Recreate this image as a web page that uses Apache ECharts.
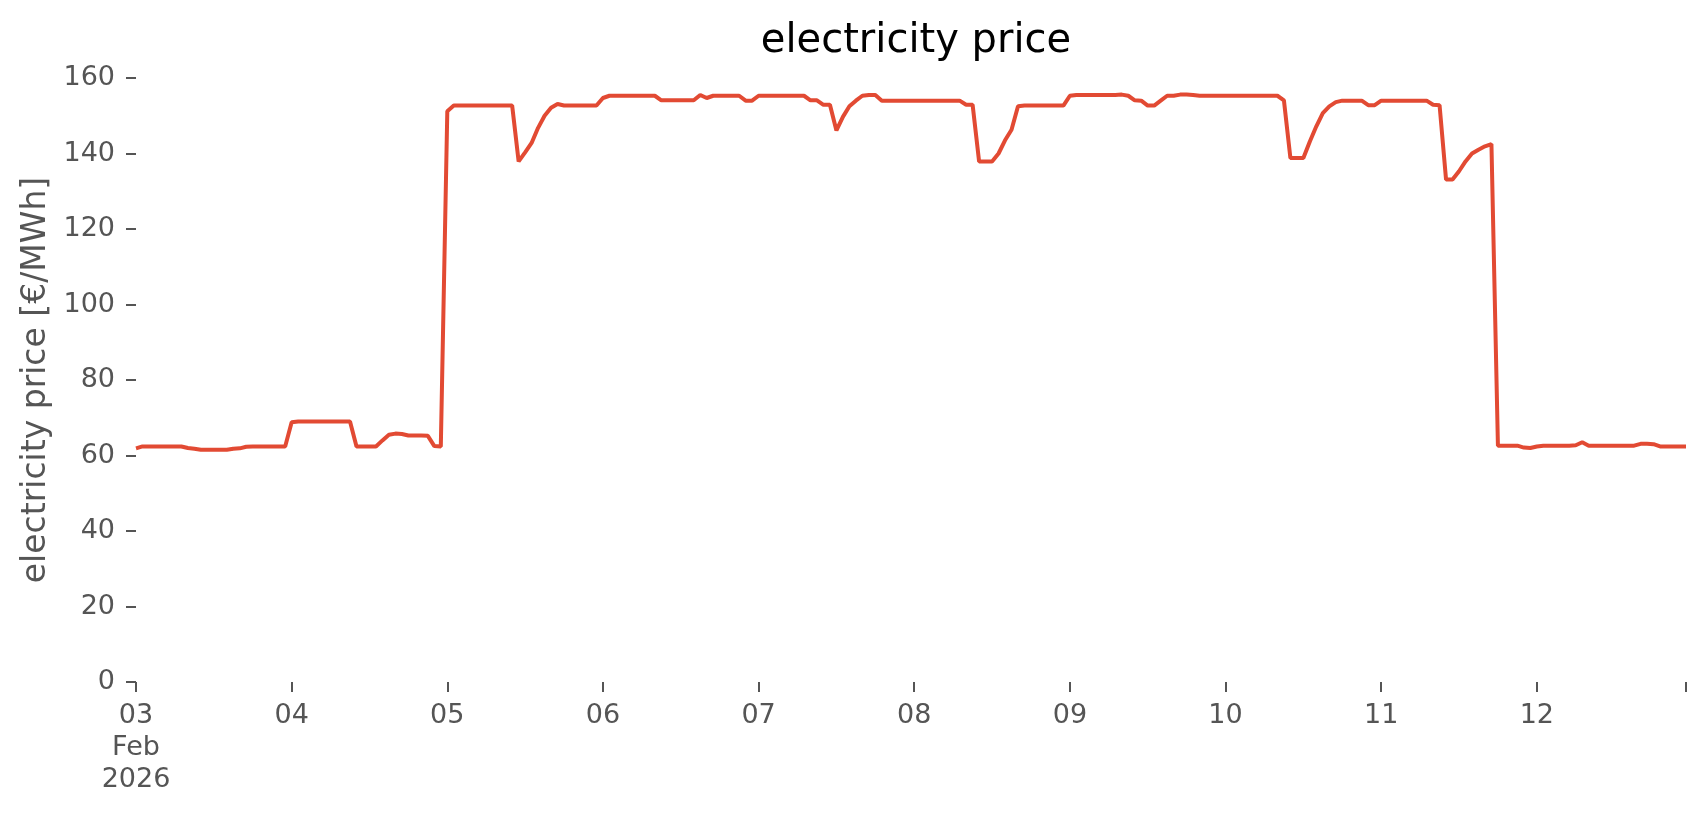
<!DOCTYPE html>
<html>
<head>
<meta charset="utf-8">
<script src="https://cdn.jsdelivr.net/npm/echarts@6/dist/echarts.min.js"></script>
<style>
html,body{margin:0;padding:0;background:#fff;}
#chart{width:1706px;height:815px;}
</style>
</head>
<body>
<div id="chart"></div>
<script>
const days = ["03","04","05","06","07","08","09","10","11","12"];
const hours = ["00","01","02","03","04","05","06","07","08","09","10","11","12","13","14","15","16","17","18","19","20","21","22","23"];
const monthLabel = "Feb";
const yearLabel = "2026";
const yTicks = [0, 20, 40, 60, 80, 100, 120, 140, 160];

const price_0203 = [61.9, 62.4, 62.4, 62.4, 62.4, 62.4, 62.4, 62.4, 62.0, 61.8, 61.5, 61.5, 61.5, 61.5, 61.5, 61.8, 61.9, 62.3, 62.4, 62.4, 62.4, 62.4, 62.4, 62.4];
const price_0204 = [68.8, 69.0, 69.0, 69.0, 69.0, 69.0, 69.0, 69.0, 69.0, 69.0, 62.4, 62.4, 62.4, 62.4, 64.0, 65.5, 65.8, 65.7, 65.3, 65.3, 65.3, 65.2, 62.5, 62.4];
const price_0205 = [151.2, 152.7, 152.7, 152.7, 152.7, 152.7, 152.7, 152.7, 152.7, 152.7, 152.7, 137.9, 140.3, 142.8, 146.8, 150.0, 152.1, 153.1, 152.7, 152.7, 152.7, 152.7, 152.7, 152.7];
const price_0206 = [154.7, 155.3, 155.3, 155.3, 155.3, 155.3, 155.3, 155.3, 155.3, 154.1, 154.1, 154.1, 154.1, 154.1, 154.1, 155.5, 154.7, 155.3, 155.3, 155.3, 155.3, 155.3, 154.0, 154.0];
const price_0207 = [155.3, 155.3, 155.3, 155.3, 155.3, 155.3, 155.3, 155.3, 154.1, 154.1, 152.9, 152.9, 146.1, 149.7, 152.5, 154.0, 155.3, 155.5, 155.5, 154.0, 154.0, 154.0, 154.0, 154.0];
const price_0208 = [154.0, 154.0, 154.0, 154.0, 154.0, 154.0, 154.0, 154.0, 152.9, 152.9, 137.9, 137.9, 137.9, 140.0, 143.5, 146.3, 152.5, 152.7, 152.7, 152.7, 152.7, 152.7, 152.7, 152.7];
const price_0209 = [155.3, 155.5, 155.5, 155.5, 155.5, 155.5, 155.5, 155.5, 155.6, 155.3, 154.1, 154.0, 152.7, 152.7, 154.0, 155.3, 155.3, 155.6, 155.6, 155.5, 155.3, 155.3, 155.3, 155.3];
const price_0210 = [155.3, 155.3, 155.3, 155.3, 155.3, 155.3, 155.3, 155.3, 155.3, 154.1, 138.8, 138.8, 138.8, 143.2, 147.2, 150.7, 152.5, 153.6, 154.0, 154.0, 154.0, 154.0, 152.8, 152.8];
const price_0211 = [154.0, 154.0, 154.0, 154.0, 154.0, 154.0, 154.0, 154.0, 152.9, 152.8, 133.1, 133.1, 135.3, 137.9, 140.0, 141.0, 141.9, 142.5, 62.6, 62.6, 62.6, 62.6, 62.1, 62.0];
const price_0212 = [62.4, 62.6, 62.6, 62.6, 62.6, 62.6, 62.7, 63.5, 62.6, 62.6, 62.6, 62.6, 62.6, 62.6, 62.6, 62.6, 63.1, 63.1, 63.0, 62.4, 62.4, 62.4, 62.4, 62.4];

const dailyPrices = [price_0203, price_0204, price_0205, price_0206, price_0207, price_0208, price_0209, price_0210, price_0211, price_0212];

const categories = [];
const values = [];
days.forEach((d, i) => {
  hours.forEach((h, j) => {
    categories.push(yearLabel + "-02-" + d + " " + h + ":00");
    values.push(dailyPrices[i][j]);
  });
});
const lastIdx = categories.length - 1;

const FONT = "DejaVu Sans";
const chart = echarts.init(document.getElementById('chart'), null, {renderer: 'canvas'});
chart.setOption({
  backgroundColor: '#ffffff',
  animation: false,
  title: {
    text: 'electricity price',
    left: 911,
    top: 17,
    textAlign: 'center',
    textStyle: {fontFamily: FONT, fontSize: 40, fontWeight: 'normal', color: '#000000'}
  },
  grid: {left: 136, right: 20, top: 78, bottom: 133, containLabel: false},
  xAxis: {
    type: 'category',
    data: categories,
    boundaryGap: false,
    axisLine: {show: false},
    axisTick: {
      show: true, length: 10, lineStyle: {color: '#555555', width: 2},
      interval: (idx) => idx % 24 === 0 || idx === lastIdx
    },
    axisLabel: {
      interval: (idx) => idx % 24 === 0,
      margin: 18,
      fontFamily: FONT, fontSize: 27, color: '#555555', lineHeight: 32,
      formatter: (val, idx) => {
        const d = val.substr(8, 2);
        if (idx === 0) return d + "\n" + monthLabel + "\n" + yearLabel;
        return d;
      }
    },
    splitLine: {show: false}
  },
  yAxis: {
    type: 'value',
    min: yTicks[0],
    max: yTicks[yTicks.length - 1],
    interval: 20,
    name: 'electricity price [€/MWh]',
    nameLocation: 'middle',
    nameGap: 81,
    nameTextStyle: {fontFamily: FONT, fontSize: 33, color: '#555555'},
    axisLine: {show: false},
    axisTick: {show: true, length: 10, lineStyle: {color: '#555555', width: 2}},
    axisLabel: {margin: 21, fontFamily: FONT, fontSize: 27, color: '#555555'},
    splitLine: {show: false}
  },
  series: [{
    type: 'line',
    data: values,
    showSymbol: false,
    symbol: 'none',
    lineStyle: {color: '#E24A33', width: 4},
    itemStyle: {color: '#E24A33'}
  }]
});
</script>
</body>
</html>
